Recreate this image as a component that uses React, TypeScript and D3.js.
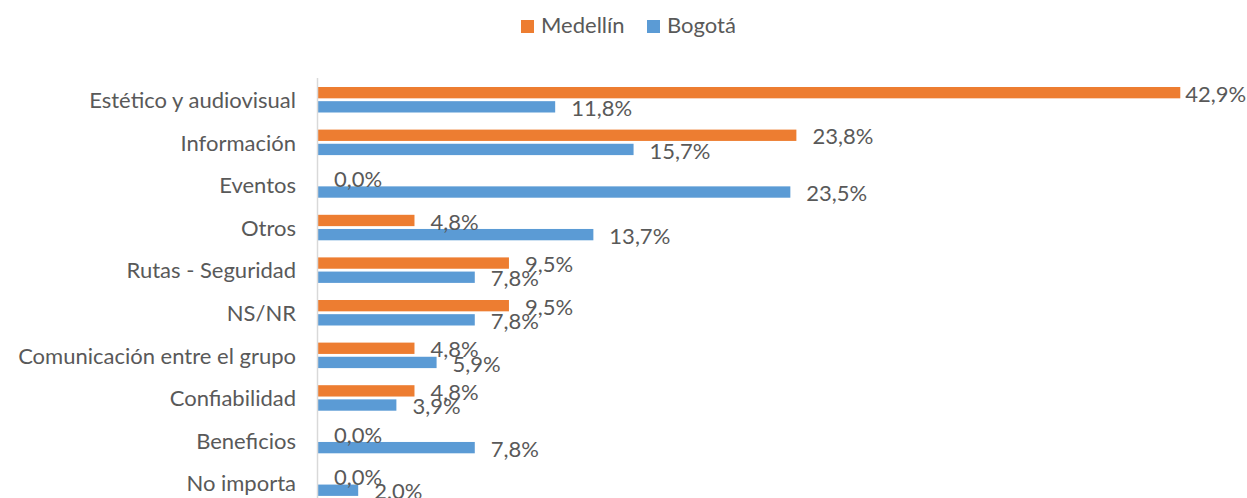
import React from 'react';
import * as d3 from 'd3';

const categories = [
  'Estético y audiovisual',
  'Información',
  'Eventos',
  'Otros',
  'Rutas - Seguridad',
  'NS/NR',
  'Comunicación entre el grupo',
  'Confiabilidad',
  'Beneficios',
  'No importa',
];
const medellin = [42.9, 23.8, 0.0, 4.8, 9.5, 9.5, 4.8, 4.8, 0.0, 0.0];
const bogota = [11.8, 15.7, 23.5, 13.7, 7.8, 7.8, 5.9, 3.9, 7.8, 2.0];
const seriesNames = ['Medellín', 'Bogotá'];
const seriesColors = ['#ED7D31', '#5B9BD5'];

const width = 1247;
const height = 498;
const font = 'Lato, "Noto Sans", sans-serif';
const fontSize = 22;
const textColor = '#595959';

const fmt = (v: number) => v.toFixed(1).replace('.', ',') + '%';

export default function App() {
  const x = d3.scaleLinear().domain([0, 45]).range([318, 318 + 45 * 20.1]);
  const y = d3.scaleBand<string>().domain(categories).range([78, 504]).paddingInner(0);
  const sub = d3.scaleBand<string>().domain(seriesNames).range([9, 34.5]).paddingInner(0.2);
  const data = [medellin, bogota];

  return (
    <svg width={width} height={height} style={{ position: 'absolute', left: 0, top: 0 }} fontFamily={font}>
      {/* legend */}
      <g fontSize={fontSize} fill={textColor}>
        <rect x={521} y={20} width={13} height={13} fill={seriesColors[0]} />
        <text x={541} y={33}>{seriesNames[0]}</text>
        <rect x={647} y={20} width={13} height={13} fill={seriesColors[1]} />
        <text x={667} y={33}>{seriesNames[1]}</text>
      </g>

      {/* bars */}
      {data.map((values, si) =>
        values.map((v, i) => (
          <rect
            key={`${si}-${i}`}
            x={x(0)}
            y={y(categories[i])! + sub(seriesNames[si])!}
            width={x(v) - x(0)}
            height={sub.bandwidth()}
            fill={seriesColors[si]}
          />
        ))
      )}

      {/* axis line */}
      <line x1={317.5} x2={317.5} y1={78} y2={504} stroke="#D9D9D9" strokeWidth={1.5} />

      {/* category labels */}
      <g fontSize={fontSize} fill={textColor} textAnchor="end">
        {categories.map((c) => (
          <text key={c} x={296} y={y(c)! + y.bandwidth() / 2 + 1} dy="0.35em">
            {c}
          </text>
        ))}
      </g>

      {/* value labels, the longest one pulled in to stay inside the chart */}
      <g fontSize={fontSize} fill={textColor}>
        {data.map((values, si) =>
          values.map((v, i) => {
            const lx = x(v) + 6 > 1100 ? x(v) + 5 : x(v) + 16;
            return (
              <text
                key={`l-${si}-${i}`}
                x={lx}
                y={y(categories[i])! + sub(seriesNames[si])! + sub.bandwidth() / 2 + 1.5}
                dy="0.35em"
              >
                {fmt(v)}
              </text>
            );
          })
        )}
      </g>
    </svg>
  );
}
